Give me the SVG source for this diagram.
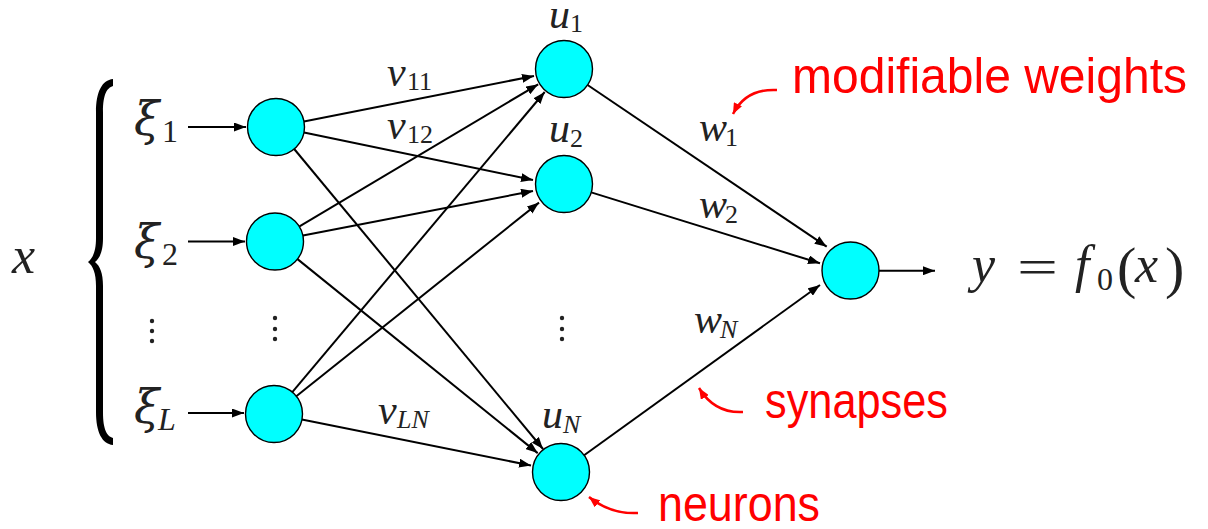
<svg xmlns="http://www.w3.org/2000/svg" width="1208" height="529" viewBox="0 0 1208 529">
<style>
.node{fill:#00ffff;stroke:#000;stroke-width:1.4}
.edge{stroke:#000;stroke-width:2;fill:none;marker-end:url(#ah)}
.red{stroke:#ff0000;stroke-width:2.5;fill:none;marker-end:url(#rh)}
.m{font-family:"Liberation Serif",serif;font-style:italic;fill:#222}
.g{font-family:"DejaVu Serif",serif;font-style:italic;fill:#222}
.r{font-family:"Liberation Serif",serif;fill:#222}
.lab{font-family:"Liberation Sans",sans-serif;fill:#ff0000;font-size:50px}
.dot{fill:#222}
</style>
<defs>
<marker id="ah" markerUnits="userSpaceOnUse" markerWidth="12" markerHeight="9" refX="12" refY="4.5" orient="auto">
<path d="M0,0 L12,4.5 L0,9 Z" fill="#000"/>
</marker>
<marker id="rh" markerUnits="userSpaceOnUse" markerWidth="11" markerHeight="9" refX="11" refY="4.5" orient="auto">
<path d="M0,0 L11,4.5 L0,9 Z" fill="#ff0000"/>
</marker>
</defs>
<rect width="1208" height="529" fill="#fff"/>

<g id="connectors">
<line class="edge" x1="188" y1="127" x2="246" y2="127"/>
<line class="edge" x1="188" y1="241.5" x2="245" y2="241.5"/>
<line class="edge" x1="188" y1="413" x2="244" y2="413"/>
<line class="edge" x1="303.9" y1="121.4" x2="534" y2="76"/>
<line class="edge" x1="304" y1="132.5" x2="533" y2="180"/>
<line class="edge" x1="294.2" y1="149" x2="543" y2="449"/>
<line class="edge" x1="299.5" y1="226.4" x2="538.2" y2="84.3"/>
<line class="edge" x1="303" y1="235.5" x2="533" y2="191"/>
<line class="edge" x1="297.2" y1="258.9" x2="537.7" y2="453.1"/>
<line class="edge" x1="292.3" y1="392.2" x2="544.7" y2="92"/>
<line class="edge" x1="296.3" y1="396.3" x2="539" y2="202.6"/>
<line class="edge" x1="301.9" y1="419.6" x2="531" y2="465.5"/>
<line class="edge" x1="587.6" y1="85" x2="826.7" y2="246.7"/>
<line class="edge" x1="591.2" y1="192.4" x2="820" y2="263.3"/>
<line class="edge" x1="584.1" y1="455.3" x2="820" y2="285"/>
<line class="edge" x1="879" y1="270.7" x2="935" y2="270.7"/>
<path class="red" d="M777,90 C758,89 742,96 733,114"/>
<path class="red" d="M743,412 C725,413 710,406 699,388"/>
<path class="red" d="M638,513 C620,514 604,509 589,497"/>
</g>

<g id="brace">
<path d="M113,79 C102,80 96,92 96,112 L96,238 C96,251 93,258 88,262 C93,266 96,273 96,286 L96,412 C96,432 102,444 113,445 L113,438 C107,436 103,430 103,412 L103,286 C103,273 100,266 95,262 C100,258 103,251 103,238 L103,112 C103,94 107,88 113,86 Z" fill="#000"/>
</g>

<g id="in1"><circle class="node" cx="276" cy="127" r="28.5"/></g>
<g id="in2"><circle class="node" cx="275" cy="241.5" r="28.5"/></g>
<g id="inL"><circle class="node" cx="274" cy="414" r="28.5"/></g>
<g id="h1"><circle class="node" cx="564" cy="69" r="28.5"/></g>
<g id="h2"><circle class="node" cx="564" cy="184" r="28.5"/></g>
<g id="hN"><circle class="node" cx="561" cy="472" r="28.5"/></g>
<g id="out"><circle class="node" cx="850.5" cy="270.5" r="28.5"/></g>

<g id="dots">
<circle class="dot" cx="152" cy="321" r="2.2"/><circle class="dot" cx="152" cy="331" r="2.2"/><circle class="dot" cx="152" cy="341" r="2.2"/>
<circle class="dot" cx="275" cy="318" r="2.2"/><circle class="dot" cx="275" cy="329" r="2.2"/><circle class="dot" cx="275" cy="339" r="2.2"/>
<circle class="dot" cx="562" cy="318" r="2.2"/><circle class="dot" cx="562" cy="329" r="2.2"/><circle class="dot" cx="562" cy="339" r="2.2"/>
</g>

<g id="labels">
<text class="m" x="12" y="273" font-size="52">x</text>
<text class="g" x="134" y="135" font-size="46">ξ</text><text class="r" x="162" y="142" font-size="32">1</text>
<text class="g" x="134" y="258" font-size="46">ξ</text><text class="r" x="162" y="265" font-size="32">2</text>
<text class="g" x="134" y="423" font-size="46">ξ</text><text class="m" x="158" y="430" font-size="32">L</text>

<text class="m" x="387" y="86" font-size="42">v</text><text class="r" x="407" y="90" font-size="26">11</text>
<text class="m" x="387" y="139" font-size="42">v</text><text class="r" x="407" y="143" font-size="26">12</text>
<text class="m" x="378" y="424" font-size="42">v</text><text class="m" x="397" y="428" font-size="26">LN</text>
<text class="m" x="549" y="28" font-size="42">u</text><text class="r" x="570" y="32" font-size="26">1</text>
<text class="m" x="549" y="142" font-size="42">u</text><text class="r" x="570" y="147" font-size="26">2</text>
<text class="m" x="542" y="428" font-size="42">u</text><text class="m" x="563" y="433" font-size="26">N</text>
<text class="m" x="699" y="141" font-size="42">w</text><text class="r" x="725" y="146" font-size="26">1</text>
<text class="m" x="699" y="218" font-size="42">w</text><text class="r" x="725" y="223" font-size="26">2</text>
<text class="m" x="694" y="333" font-size="42">w</text><text class="m" x="720" y="338" font-size="26">N</text>

<text class="m" x="972" y="282" font-size="52">y</text>
<text class="r" x="1017" y="284" font-size="50" textLength="41" lengthAdjust="spacingAndGlyphs">=</text>
<text class="m" x="1075" y="282" font-size="52">f</text>
<text class="r" x="1097" y="290" font-size="32">0</text>
<text class="r" x="1117" y="287" font-size="58">(</text>
<text class="m" x="1135" y="282" font-size="52">x</text>
<text class="r" x="1165" y="287" font-size="58">)</text>

<text class="lab" x="792" y="93" textLength="395" lengthAdjust="spacingAndGlyphs">modifiable weights</text>
<text class="lab" x="765" y="418" textLength="183" lengthAdjust="spacingAndGlyphs">synapses</text>
<text class="lab" x="658" y="521" textLength="162" lengthAdjust="spacingAndGlyphs">neurons</text>
</g>
</svg>
